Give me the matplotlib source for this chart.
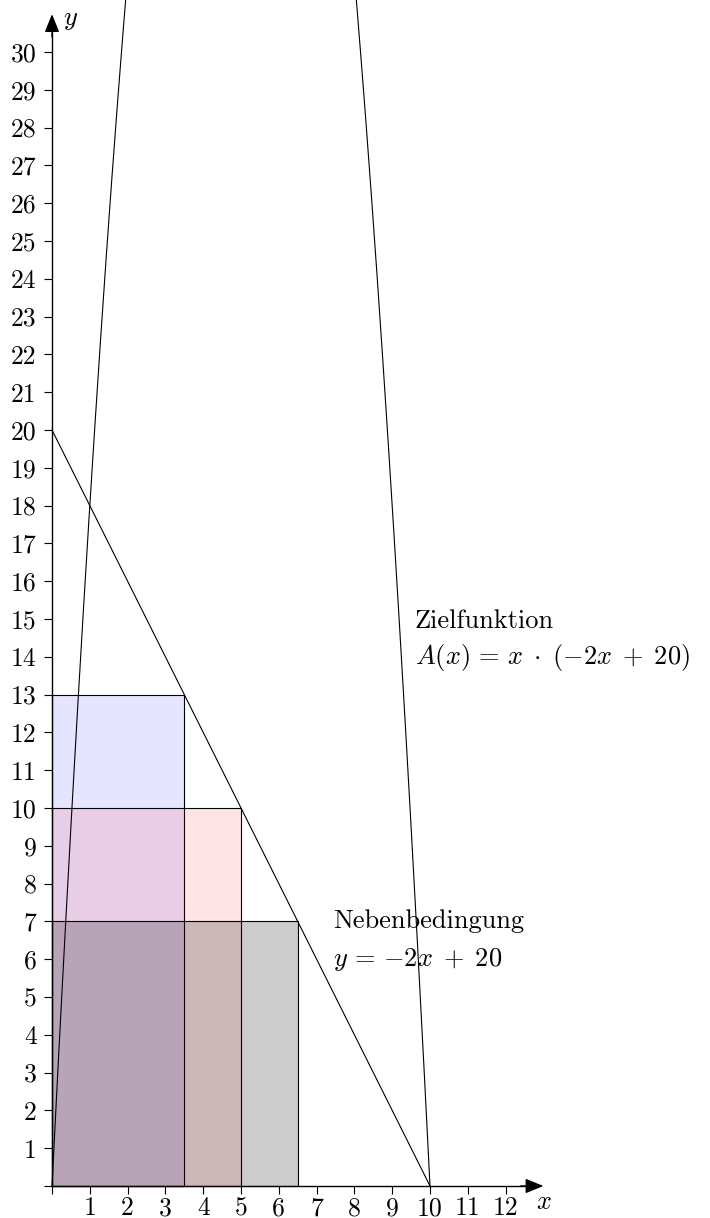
import matplotlib
matplotlib.use("Agg")
import matplotlib.pyplot as plt
import numpy as np

plt.rcParams["font.family"] = "serif"
plt.rcParams["font.serif"] = ["cmr10"]
plt.rcParams["mathtext.fontset"] = "cm"
plt.rcParams["axes.unicode_minus"] = False
plt.rcParams["axes.formatter.use_mathtext"] = True

# rectangles x * y under the constraint
rect_w = [3.5, 5.0, 6.5]
rect_h = [13, 10, 7]
rect_col = [(0, 0, 1, 0.1), (1, 0, 0, 0.1), (0, 0, 0, 0.2)]

x_ticks = list(range(0, 13))
y_ticks = list(range(0, 31))

px = 37.8  # pixels per unit
W, H = 710, 1218
ox, oy = 52, 1186  # origin in pixels
fs = 18.5

fig = plt.figure(figsize=(W / 100, H / 100), dpi=100)
ax = fig.add_axes([0, 0, 1, 1])
ax.set_xlim(-ox / px, (W - ox) / px)
ax.set_ylim(-(H - oy) / px, oy / px)

for w, h, c in zip(rect_w, rect_h, rect_col):
    ax.bar(0, h, width=w, align="edge", color=c, edgecolor="k", linewidth=0.8, zorder=1)

# Zielfunktion and Nebenbedingung
xs = np.linspace(0, 10, 400)
ax.plot(xs, xs * (-2 * xs + 20), c="k", lw=0.8, zorder=2)
ax.plot([0, 10], [20, 0], c="k", lw=0.8, zorder=2)

ax.text(9.6, 14.76, "Zielfunktion", fontsize=19, va="baseline")
ax.text(9.6, 13.81, r"$A(x)\,=\,x\;\cdot\;({-}2x\;+\;20)$", fontsize=19, va="baseline")
ax.text(7.43, 6.83, "Nebenbedingung", fontsize=19, va="baseline")
ax.text(7.43, 5.82, r"$y\,=\,{-}2x\;+\;20$", fontsize=19, va="baseline")

# axes through origin
for s in ["top", "right"]:
    ax.spines[s].set_visible(False)
ax.spines["left"].set_position(("data", 0))
ax.spines["bottom"].set_position(("data", 0))
ax.spines["left"].set_bounds(0, 30.6)
ax.spines["bottom"].set_bounds(0, 12.6)
ax.spines["left"].set_linewidth(1.0)
ax.spines["bottom"].set_linewidth(1.0)
ax.set_xticks(x_ticks, [""] + [str(t) for t in x_ticks[1:]])
ax.set_yticks(y_ticks, [""] + [str(t) for t in y_ticks[1:]])
ax.tick_params(direction="out", length=6, width=0.8, labelsize=fs)
ax.tick_params(axis="y", pad=5)
ax.tick_params(axis="x", pad=1.5)

arr = dict(arrowstyle="-|>,head_length=1.1,head_width=0.45", color="k", lw=1.0, mutation_scale=10,
           shrinkA=0, shrinkB=0)
ax.annotate("", xy=(13.0, 0), xytext=(12.4, 0), arrowprops=arr)
ax.annotate("", xy=(0, 31.0), xytext=(0, 30.4), arrowprops=arr)
ax.text(13.0, -0.42, "$x$", fontsize=19, ha="center", va="center")
ax.text(0.5, 30.85, "$y$", fontsize=19, ha="center", va="center")

fig.savefig("out.png", dpi=100)
